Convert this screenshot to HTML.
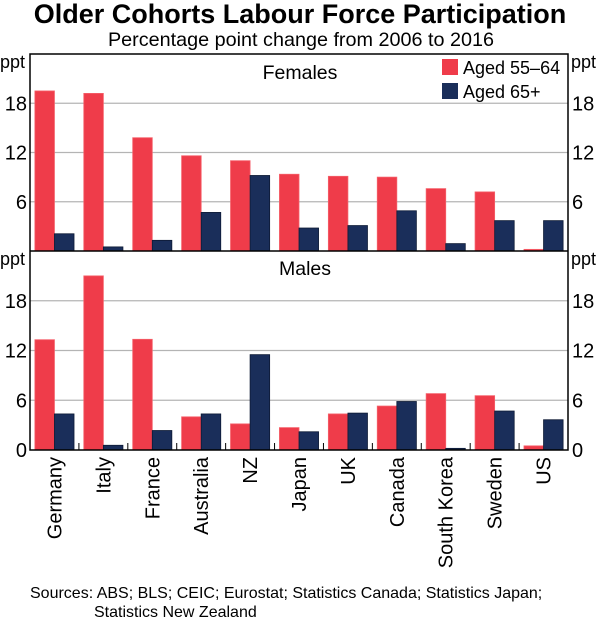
<!DOCTYPE html>
<html><head><meta charset="utf-8"><style>
body{margin:0;background:#fff;}
svg{display:block;font-family:"Liberation Sans",Arial,sans-serif;}
</style></head><body>
<svg id="chart" width="600" height="619">
<text x="300" y="23" text-anchor="middle" font-size="27" font-weight="bold">Older Cohorts Labour Force Participation</text>
<text x="301" y="46" text-anchor="middle" font-size="19.8">Percentage point change from 2006 to 2016</text>
<g id="grid"></g><g id="bars"></g><g id="axes"></g>
<text x="300" y="79" text-anchor="middle" font-size="19.5">Females</text>
<text x="305" y="275" text-anchor="middle" font-size="19.5">Males</text>
<rect x="442" y="59" width="16" height="16" fill="#ef3c4a"/>
<text x="463" y="74" font-size="18">Aged 55–64</text>
<rect x="442" y="83" width="16" height="16" fill="#1a2e5a"/>
<text x="463" y="98" font-size="18">Aged 65+</text>
<text x="0" y="68" font-size="18">ppt</text>
<text x="571" y="68" font-size="18">ppt</text>
<text x="0" y="265" font-size="18">ppt</text>
<text x="571" y="265" font-size="18">ppt</text>
<text x="30" y="598" font-size="16">Sources: ABS; BLS; CEIC; Eurostat; Statistics Canada; Statistics Japan;</text>
<text x="94" y="617" font-size="16">Statistics New Zealand</text>
</svg>
<script>
const categories=["Germany","Italy","France","Australia","NZ","Japan","UK","Canada","South Korea","Sweden","US"];
const femalesAged5564=[19.5,19.2,13.8,11.6,11.0,9.35,9.1,9.0,7.6,7.2,0.2];
const femalesAged65=[2.1,0.5,1.3,4.7,9.2,2.8,3.1,4.9,0.9,3.7,3.7];
const malesAged5564=[13.3,21.0,13.35,4.0,3.15,2.7,4.35,5.3,6.8,6.55,0.5];
const malesAged65=[4.35,0.57,2.35,4.35,11.5,2.2,4.45,5.85,0.2,4.7,3.65];
const tickValues=[6,12,18];
const tickLabels=["6","12","18"];
const L=30,R=568,TOP=54,MID=251,BOT=450,YMAX=24;
const NS="http://www.w3.org/2000/svg";
const gw=(R-L)/categories.length;
function xBand(i){return L+i*gw;}
function yTop(v){return MID-(v/YMAX)*(MID-TOP);}
function yBot(v){return BOT-(v/YMAX)*(BOT-MID);}
function mk(tag,attrs,parent){const e=document.createElementNS(NS,tag);for(const k in attrs)e.setAttribute(k,attrs[k]);document.getElementById(parent).appendChild(e);return e;}
tickValues.forEach((v,i)=>{
  [[yTop,'top'],[yBot,'bottom']].forEach(([f,p])=>{
    const y=f(v);
    const g=mk('line',{x1:L,x2:R,y1:y,y2:y,stroke:'#b4b4b4','stroke-width':1.2},'grid');
    
    
    const t1=mk('text',{x:27,y:y+7,'text-anchor':'end','font-size':20},'axes');t1.textContent=tickLabels[i];
    
    
    const t2=mk('text',{x:572,y:y+7,'font-size':20},'axes');t2.textContent=tickLabels[i];
    
    
  });
});
const z=mk('text',{x:27,y:yBot(0)+7,'text-anchor':'end','font-size':20},'axes');z.textContent='0';


const z2=mk('text',{x:572,y:yBot(0)+7,'font-size':20},'axes');z2.textContent='0';


const bw=gw*0.4;
function bars(arr,f,off,color,stroke,name){
  arr.forEach((v,i)=>{
    const x=xBand(i)+gw*0.1+off*bw;const y=f(v);const y0=f(0);
    const r=mk('rect',{x:x,y:y,width:bw,height:Math.max(0,y0-y),fill:color,stroke:stroke,'stroke-width':0.8},'bars');
    
    
  });
}
bars(femalesAged5564,yTop,0,'#ef3c4a','#f5606a','bar-females-55-64');
bars(femalesAged65,yTop,1,'#1a2e5a','#0d1a35','bar-females-65plus');
bars(malesAged5564,yBot,0,'#ef3c4a','#f5606a','bar-males-55-64');
bars(malesAged65,yBot,1,'#1a2e5a','#0d1a35','bar-males-65plus');
const fr=mk('rect',{x:L,y:TOP,width:R-L,height:BOT-TOP,fill:'none',stroke:'#000','stroke-width':1.5},'axes');


const dv=mk('line',{x1:L,x2:R,y1:MID,y2:MID,stroke:'#000','stroke-width':1.5},'axes');


categories.forEach((c,i)=>{
  if(i>0){const tk=mk('line',{x1:xBand(i),x2:xBand(i),y1:BOT,y2:BOT-7,stroke:'#000','stroke-width':1},'axes');
  
  }
  const cx=xBand(i)+gw/2+7;
  const t=mk('text',{x:cx,y:457,'font-size':20,'text-anchor':'end',transform:'rotate(-90 '+cx+' 457)'},'axes');
  t.textContent=c;
  
  
});
</script>
</body></html>
